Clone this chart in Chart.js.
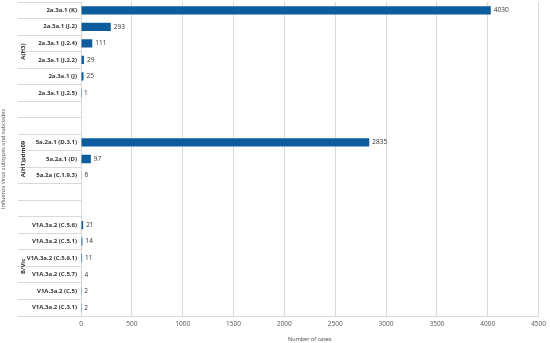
<!DOCTYPE html>
<html>
<head>
<meta charset="utf-8">
<script src="https://cdn.jsdelivr.net/npm/chart.js@4/dist/chart.umd.min.js"></script>
<style>
  html, body { margin: 0; padding: 0; background: #fff; }
  #wrap { width: 550px; height: 343px; position: relative; }
</style>
</head>
<body>
<div id="wrap"><canvas id="chart"></canvas></div>
<script>
// categories top to bottom, blank rows separate the virus groups
const clades = [
  '2a.3a.1 (K)', '2a.3a.1 (J.2)', '2a.3a.1 (J.2.4)', '2a.3a.1 (J.2.2)', '2a.3a.1 (J)', '2a.3a.1 (J.2.5)',
  '', ' ',
  '5a.2a.1 (D.3.1)', '5a.2a.1 (D)', '5a.2a (C.1.9.3)',
  '  ', '   ',
  'V1A.3a.2 (C.5.6)', 'V1A.3a.2 (C.5.1)', 'V1A.3a.2 (C.5.6.1)', 'V1A.3a.2 (C.5.7)', 'V1A.3a.2 (C.5)', 'V1A.3a.2 (C.3.1)'
];
const cases = [4030, 293, 111, 29, 25, 1, null, null, 2835, 97, 6, null, null, 21, 14, 11, 4, 2, 2];
const groups = ['A(H3)', 'A(H1)pdm09', 'B/Vic'];
const groupRows = [[0, 5], [8, 10], [13, 18]];
const xTicks = [0, 500, 1000, 1500, 2000, 2500, 3000, 3500, 4000, 4500];

const BLUE = '#0c5c9e';
const FONT = '"Open Sans", "Liberation Sans", sans-serif';

const labelPlugin = {
  id: 'labels',
  afterDatasetsDraw(chart) {
    const ctx = chart.ctx;
    const meta = chart.getDatasetMeta(0);
    ctx.save();
    ctx.font = '6.5px ' + FONT;
    ctx.fillStyle = '#333';
    ctx.textBaseline = 'middle';
    ctx.textAlign = 'left';
    meta.data.forEach((bar, i) => {
      if (cases[i] == null) return;
      ctx.fillText(String(cases[i]), bar.x + 3, bar.y);
    });

    // group names, rotated
    const y = chart.scales.y;
    ctx.font = 'bold 6px ' + FONT;
    ctx.fillStyle = '#333';
    ctx.textAlign = 'center';
    groups.forEach((g, k) => {
      const mid = (y.getPixelForValue(groupRows[k][0]) + y.getPixelForValue(groupRows[k][1])) / 2;
      ctx.save();
      ctx.translate(23, mid);
      ctx.rotate(-Math.PI / 2);
      ctx.fillText(g, 0, 0);
      ctx.restore();
    });
    ctx.restore();
  }
};

new Chart(document.getElementById('chart'), {
  type: 'bar',
  data: {
    labels: clades,
    datasets: [{ data: cases, backgroundColor: BLUE, barPercentage: 0.5, categoryPercentage: 1 }]
  },
  options: {
    indexAxis: 'y',
    responsive: true, maintainAspectRatio: false, animation: false,
    layout: { padding: { top: 2, right: 9, left: 0, bottom: 0 } },
    plugins: { legend: { display: false }, tooltip: { enabled: false } },
    scales: {
      x: {
        min: 0, max: 4500,
        afterBuildTicks: s => { s.ticks = xTicks.map(v => ({ value: v })); },
        afterFit: s => { s.height = 27; },
        grid: { color: '#d9d9d9', drawTicks: false },
        border: { color: '#d9d9d9' },
        ticks: { color: '#555', font: { size: 6.5, family: FONT }, padding: 4, callback: v => String(v) },
        title: { display: true, text: 'Number of cases', color: '#444', font: { size: 5.5, family: FONT }, padding: { top: 4, bottom: 0 } }
      },
      y: {
        afterFit: s => { s.width = 81; },
        grid: { offset: true, drawOnChartArea: false, drawTicks: true, tickLength: 63, color: '#d9d9d9' },
        border: { color: '#d9d9d9' },
        ticks: { color: '#333', font: { size: 6, weight: 'bold', family: FONT }, padding: -59, autoSkip: false },
        title: { display: true, text: 'Influenza virus subtypes and subclades', color: '#555', font: { size: 5.5, family: FONT }, padding: 0 }
      }
    }
  },
  plugins: [labelPlugin]
});
</script>
</body>
</html>
